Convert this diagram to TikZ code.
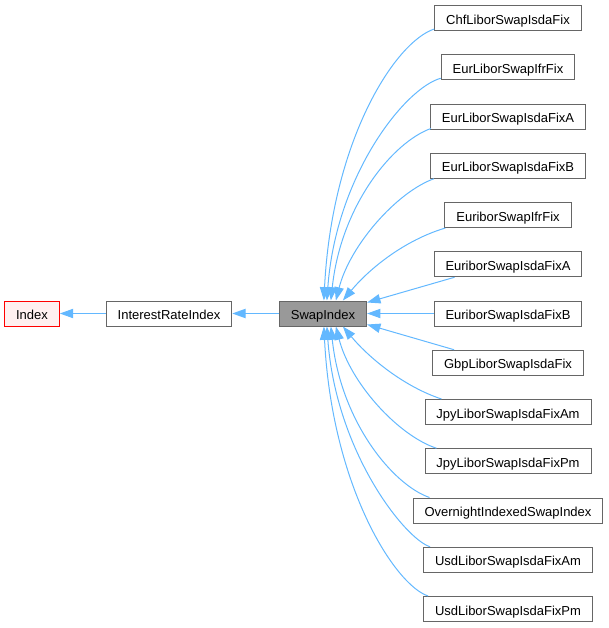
\documentclass[tikz,border=0pt]{standalone}
\usepackage{fontspec}
\setmainfont{Liberation Sans}
\usetikzlibrary{arrows.meta,calc}
\definecolor{edgeblue}{HTML}{63B8FF}
\definecolor{boxgray}{HTML}{666666}
\definecolor{idxred}{HTML}{FF0000}
\definecolor{idxfill}{HTML}{FFF0F0}
\definecolor{swapfill}{HTML}{999999}
\begin{document}
\begin{tikzpicture}[x=0.75pt,y=-0.75pt,
  cls/.style={draw=boxgray, fill=white, line width=0.75pt, minimum height=18.75pt,
    inner xsep=8.6pt, inner ysep=0pt, text height=9pt, text depth=0pt,
    font=\fontsize{9.75}{11}\selectfont, text=black},
  edge/.style={draw=edgeblue, line width=0.75pt, -{Triangle[length=10pt,width=7pt]}}]
\useasboundingbox (0,0) rectangle (608,628);
% left chain
\node[cls, draw=idxred, fill=idxfill] (index) at (32,313.5) {Index};
\node[cls] (iri) at (169,313.5) {InterestRateIndex};
\node[cls, fill=swapfill] (swap) at (323,313.5) {SwapIndex};
% right column
\node[cls] (chf) at (508,18) {ChfLiborSwapIsdaFix};
\node[cls] (eurlifr) at (508,67.25) {EurLiborSwapIfrFix};
\node[cls] (eurla) at (508,116.5) {EurLiborSwapIsdaFixA};
\node[cls] (eurlb) at (508,165.75) {EurLiborSwapIsdaFixB};
\node[cls] (euribifr) at (508,215) {EuriborSwapIfrFix};
\node[cls] (euriba) at (508,264.25) {EuriborSwapIsdaFixA};
\node[cls] (euribb) at (508,313.5) {EuriborSwapIsdaFixB};
\node[cls] (gbp) at (508,362.75) {GbpLiborSwapIsdaFix};
\node[cls] (jpyam) at (508,412) {JpyLiborSwapIsdaFixAm};
\node[cls] (jpypm) at (508,461.25) {JpyLiborSwapIsdaFixPm};
\node[cls] (onight) at (508,510.5) {OvernightIndexedSwapIndex};
\node[cls] (usdam) at (508,559.75) {UsdLiborSwapIsdaFixAm};
\node[cls] (usdpm) at (508,609) {UsdLiborSwapIsdaFixPm};
% straight edges
\draw[edge] (iri) -- (index);
\draw[edge] (swap) -- (iri);
\draw[edge] (euribb) -- (swap);
% upper curves
\draw[edge] ($(chf.south west)+(0,-2)$) .. controls (395,42) and (332,140) .. ($(swap.north west)+(45,0)$);
\draw[edge] ($(eurlifr.south west)+(0,-2)$) .. controls (405,88) and (336,175) .. ($(swap.north west)+(48,0)$);
\draw[edge] ($(eurla.south west)+(1,-1)$) .. controls (393,142) and (341,205) .. ($(swap.north west)+(52,0)$);
\draw[edge] ($(eurlb.south west)+(4,0)$) .. controls (397,192) and (350,245) .. ($(swap.north west)+(57,0)$);
\draw[edge] ($(euribifr.south west)+(1,0)$) .. controls (405,240) and (370,268) .. ($(swap.north west)+(64,0)$);
\draw[edge] ($(euriba.south west)+(21,0)$) -- ($(swap.north east)+(0,2)$);
% lower curves
\draw[edge] ($(gbp.north west)+(22,0)$) -- ($(swap.south east)+(0,-2)$);
\draw[edge] ($(jpyam.north west)+(17,0)$) .. controls (405,387) and (370,359) .. ($(swap.south west)+(64,0)$);
\draw[edge] ($(jpypm.north west)+(12,0)$) .. controls (397,435) and (350,382) .. ($(swap.south west)+(57,0)$);
\draw[edge] ($(onight.north west)+(17,0)$) .. controls (393,485) and (341,422) .. ($(swap.south west)+(52,0)$);
\draw[edge] ($(usdam.north west)+(7,0)$) .. controls (405,539) and (336,452) .. ($(swap.south west)+(48,0)$);
\draw[edge] ($(usdpm.north west)+(5,0)$) .. controls (395,585) and (332,487) .. ($(swap.south west)+(45,0)$);
\end{tikzpicture}
\end{document}
